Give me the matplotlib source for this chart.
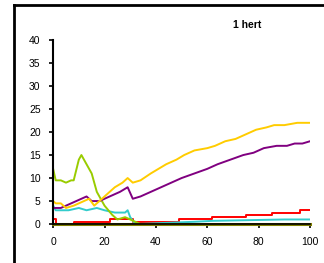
import matplotlib.pyplot as plt
from matplotlib.lines import Line2D

plt.rcParams['font.family'] = ['Liberation Sans', 'DejaVu Sans']

# series (x in %, y value)
yellow_x = [0, 1, 3, 5, 8, 10, 12, 14, 16, 18, 20, 22, 24, 27, 29, 31, 34, 38, 41, 44, 48, 51, 55, 60, 63, 67, 71, 75, 79, 83, 86, 90, 95, 100]
yellow_y = [5, 4.5, 4.5, 3.5, 4, 4.5, 5, 5.5, 4, 5, 6, 7, 8, 9, 10, 9, 9.5, 11, 12, 13, 14, 15, 16, 16.5, 17, 18, 18.5, 19.5, 20.5, 21, 21.5, 21.5, 22, 22]

purple_x = [0, 3, 5, 9, 13, 15, 18, 20, 22, 26, 29, 31, 34, 38, 42, 46, 50, 55, 60, 64, 69, 74, 78, 82, 87, 91, 94, 97, 100]
purple_y = [3.5, 3.5, 4, 5, 6, 5, 5, 5.5, 6, 7, 8, 5.5, 6, 7, 8, 9, 10, 11, 12, 13, 14, 15, 15.5, 16.5, 17, 17, 17.5, 17.5, 18]

green_x = [0, 1, 3, 5, 7, 8, 10, 11, 13, 15, 17, 20, 23, 25, 28, 30, 32, 34, 100]
green_y = [12, 9.5, 9.5, 9, 9.5, 9.5, 14, 15, 13, 11, 7, 4, 2, 1, 1.5, 1, 0.5, 0, 0]

cyan_x = [0, 1, 5, 6, 10, 13, 17, 20, 24, 28, 29, 30, 32, 55, 62, 90, 100]
cyan_y = [4, 3, 3, 3, 3.5, 3, 3.5, 3, 2.5, 2.5, 3, 1.5, 0, 0.5, 0.7, 1, 1]

red_x = [0, 1, 8, 20, 22, 30, 31, 48, 49, 61, 62, 74, 75, 84, 85, 95, 96, 100]
red_y = [1, 0, 0.5, 0.5, 1, 1, 0.5, 0.5, 1, 1, 1.5, 1.5, 2, 2, 2.5, 2.5, 3, 3]

olive_x = [0, 100]
olive_y = [0, 0]

fig = plt.figure(figsize=(3.24, 2.63), dpi=100)
ax = fig.add_axes([0.164, 0.148, 0.793, 0.70])

ax.plot(red_x, red_y, color='#FF0000', lw=1.4, drawstyle='steps-post')
ax.plot(cyan_x, cyan_y, color='#33CCCC', lw=1.4)
ax.plot(green_x, green_y, color='#99CC00', lw=1.4)
ax.plot(purple_x, purple_y, color='#800080', lw=1.4)
ax.plot(yellow_x, yellow_y, color='#FFCC00', lw=1.4)
ax.plot(olive_x, olive_y, color='#808000', lw=2.2, clip_on=False)

ax.set_xlim(0, 100)
ax.set_ylim(0, 40)
ax.set_xticks(range(0, 101, 20))
ax.set_yticks(range(0, 41, 5))
ax.tick_params(direction='out', length=3, width=1.2, labelsize=7.5, pad=6)
for s in ['top', 'right']:
    ax.spines[s].set_visible(False)
ax.spines['left'].set_linewidth(1.5)
ax.spines['bottom'].set_linewidth(1.2)

fig.text(0.762, 0.905, '1 hert', fontsize=7.5, fontweight='bold', ha='center', va='center')

# frame round the chart
fig.add_artist(Line2D([0.042, 0.042], [0.0, 0.981], color='black', lw=2, transform=fig.transFigure))
fig.add_artist(Line2D([0.042, 1.0], [0.981, 0.981], color='black', lw=2, transform=fig.transFigure))

fig.savefig('out.png', dpi=100)
